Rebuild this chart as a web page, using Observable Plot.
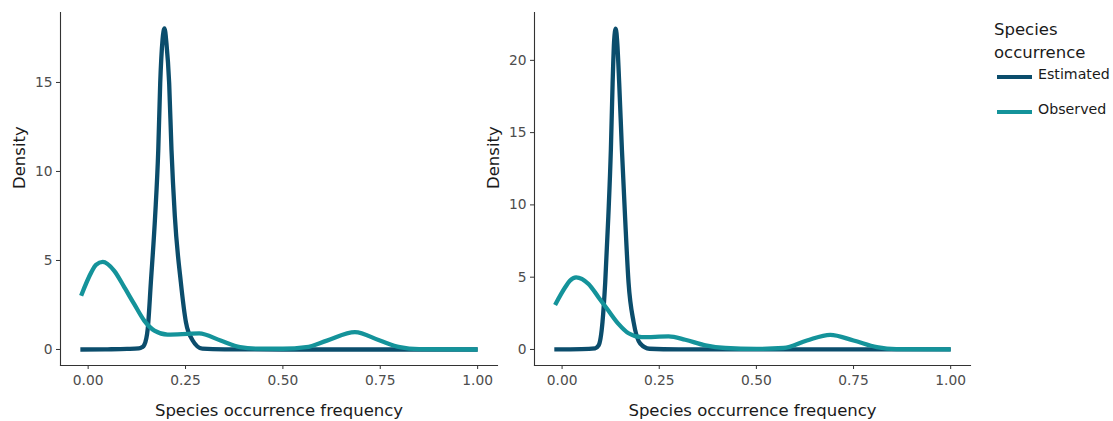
<!DOCTYPE html>
<html>
<head>
<meta charset="utf-8">
<script src="https://cdn.jsdelivr.net/npm/d3@7"></script>
<script src="https://cdn.jsdelivr.net/npm/@observablehq/plot@0.6"></script>
<style>
  html, body { margin: 0; padding: 0; background: #fff; }
  #wrap { position: relative; width: 1113px; height: 421px; font-family: "DejaVu Sans", Verdana, sans-serif; }
  #wrap svg { position: absolute; top: 0; }
  .legend { position: absolute; left: 994px; top: 18px; color: #1a1a1a; }
  .legend .title { font-size: 16.5px; line-height: 23px; }
  .legend .item { position: absolute; left: 3px; white-space: nowrap; font-size: 14.2px; }
  .legend .key { position: absolute; left: 0; width: 35px; height: 4px; }
  .legend .lab { position: absolute; left: 41px; top: -9px; }
</style>
</head>
<body>
<div id="wrap"></div>
<script>
// ---- data ----
const seriesNames = ["Estimated", "Observed"];
const seriesColors = ["#0b4d6c", "#14939a"];
const xTicks = [0, 0.25, 0.5, 0.75, 1];
const xTickLabels = ["0.00", "0.25", "0.50", "0.75", "1.00"];
const yTicksLeft = [0, 5, 10, 15];
const yTicksRight = [0, 5, 10, 15, 20];

// Left panel
const freqEstLeft = [-0.02, 0.05, 0.10, 0.13, 0.138, 0.144, 0.153, 0.161, 0.172, 0.180, 0.185, 0.191, 0.196, 0.201, 0.208, 0.214, 0.2225, 0.238, 0.251, 0.268, 0.293, 0.35, 0.5, 0.75, 1.0];
const densEstLeft = [0.0, 0.01, 0.03, 0.06, 0.12, 0.25, 1.17, 3.77, 7.5, 11.2, 14.96, 17.4, 18.03, 17.2, 14.96, 11.2, 7.5, 3.77, 1.54, 0.52, 0.05, 0.01, 0.0, 0.0, 0.0];
const freqObsLeft = [-0.018, 0.008, 0.02, 0.0375, 0.067, 0.093, 0.118, 0.144, 0.17, 0.204, 0.255, 0.285, 0.34, 0.39, 0.43, 0.5, 0.56, 0.613, 0.685, 0.749, 0.80, 0.85, 1.0];
const densObsLeft = [3.02, 4.33, 4.75, 4.92, 4.42, 3.49, 2.56, 1.62, 1.06, 0.84, 0.88, 0.91, 0.5, 0.13, 0.05, 0.04, 0.13, 0.5, 0.97, 0.5, 0.13, 0.02, 0.0];

// Right panel
const freqEstRight = [-0.02, 0.05, 0.085, 0.094, 0.104, 0.111, 0.119, 0.1255, 0.130, 0.134, 0.138, 0.142, 0.147, 0.154, 0.162, 0.171, 0.184, 0.201, 0.225, 0.3, 0.5, 0.75, 1.0];
const densEstRight = [0.0, 0.02, 0.08, 0.28, 1.9, 4.64, 9.2, 13.8, 18.4, 21.4, 22.2, 21.2, 18.4, 13.8, 9.2, 4.64, 1.9, 0.41, 0.05, 0.01, 0.0, 0.0, 0.0];
const freqObsRight = [-0.018, 0.008, 0.02, 0.036, 0.068, 0.094, 0.119, 0.145, 0.171, 0.205, 0.274, 0.317, 0.369, 0.42, 0.5, 0.57, 0.63, 0.69, 0.75, 0.81, 0.86, 1.0];
const densObsRight = [3.08, 4.3, 4.75, 4.99, 4.53, 3.6, 2.69, 1.77, 1.12, 0.85, 0.9, 0.67, 0.28, 0.1, 0.04, 0.1, 0.62, 1.01, 0.62, 0.16, 0.02, 0.0];

function rows(freq, dens, name) {
  return freq.map((f, i) => ({ freq: f, dens: dens[i], series: name }));
}

function panel(est, obs, yDomain, yTicks, left, width, marginRight) {
  const data = [...est, ...obs];
  const svg = Plot.plot({
    width: width,
    height: 421,
    marginLeft: 60,
    marginRight: marginRight,
    marginTop: 12,
    marginBottom: 56,
    style: { fontFamily: "DejaVu Sans, Verdana, sans-serif", fontSize: "13.8px", color: "#4d4d4d", background: "transparent", overflow: "visible" },
    x: { domain: [-0.071, 1.051], ticks: xTicks, label: null },
    y: { domain: yDomain, ticks: yTicks, label: null },
    color: { domain: seriesNames, range: seriesColors },
    marks: [
      Plot.axisX({ ticks: xTicks, tickFormat: d => xTickLabels[xTicks.indexOf(d)], tickSize: 4, tickPadding: 6, stroke: "#333", fill: "#4d4d4d", label: null }),
      Plot.axisY({ ticks: yTicks, tickFormat: d => String(d), tickSize: 4, tickPadding: 4, stroke: "#333", fill: "#4d4d4d", label: null }),
      Plot.frame({ anchor: "left", stroke: "#333", strokeWidth: 1.1 }),
      Plot.frame({ anchor: "bottom", stroke: "#333", strokeWidth: 1.1 }),
      Plot.line(data, { x: "freq", y: "dens", z: "series", stroke: "series", strokeWidth: 4.3, curve: "monotone-x", strokeLinejoin: "round", strokeLinecap: "butt" }),
      Plot.text(["Density"], { frameAnchor: "left", dx: -41, rotate: -90, fontSize: 16.5, fill: "#1a1a1a" }),
      Plot.text(["Species occurrence frequency"], { frameAnchor: "bottom", dy: 50, fontSize: 16.5, fill: "#1a1a1a" })
    ]
  });
  svg.style.left = left + "px";
  return svg;
}

const wrap = document.getElementById("wrap");
wrap.appendChild(panel(rows(freqEstLeft, densEstLeft, "Estimated"), rows(freqObsLeft, densObsLeft, "Observed"), [-0.9, 18.93], yTicksLeft, 0, 500, 3));
wrap.appendChild(panel(rows(freqEstRight, densEstRight, "Estimated"), rows(freqObsRight, densObsRight, "Observed"), [-1.11, 23.31], yTicksRight, 474, 500, 4));

// legend
const lg = document.createElement("div");
lg.className = "legend";
let html = '<div class="title">Species<br>occurrence</div>';
seriesNames.forEach((n, i) => {
  const top = 59 + i * 35;
  html += `<div class="item" style="top:${top - 2}px"><div class="key" style="background:${seriesColors[i]}"></div><div class="lab">${n}</div></div>`;
});
lg.innerHTML = html;
wrap.appendChild(lg);
</script>
</body>
</html>
